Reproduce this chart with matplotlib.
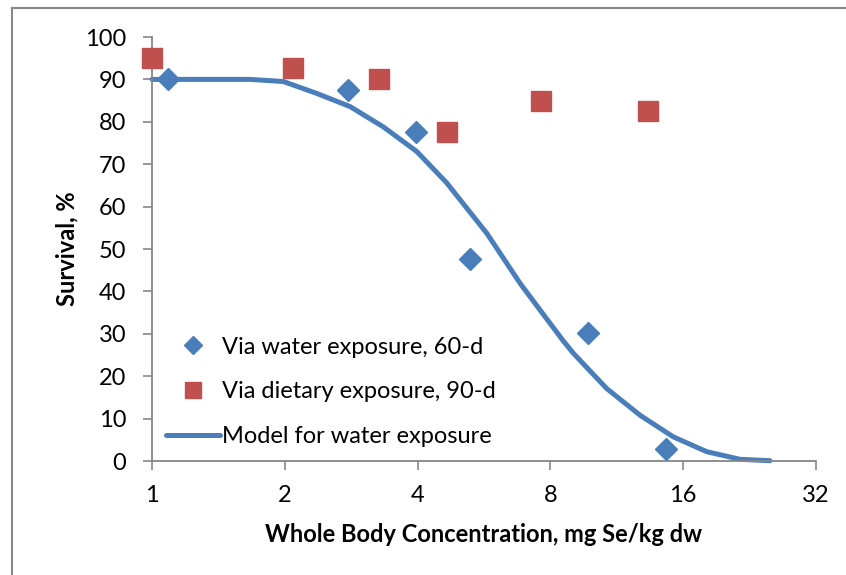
import matplotlib
matplotlib.use("Agg")
import matplotlib.pyplot as plt
from matplotlib.lines import Line2D
from matplotlib.ticker import FixedLocator, FixedFormatter, NullLocator

plt.rcParams['font.family'] = ['Lato', 'DejaVu Sans']

# Data
water_x = [1.087, 2.78, 3.97, 5.26, 9.73, 14.6]
water_y = [90.1, 87.5, 77.6, 47.6, 30.2, 2.8]

diet_x = [1.0, 2.09, 3.27, 4.66, 7.62, 13.3]
diet_y = [95.0, 92.7, 90.1, 77.6, 84.9, 82.5]

model_x = [1.0, 1.3, 1.5, 1.668, 1.985, 2.362, 2.811, 3.345, 3.982, 4.656,
           5.74, 6.83, 7.58, 8.56, 9.02, 10.73, 12.77, 15.19, 18.09,
           21.52, 25.17]
model_y = [90.0, 90.0, 90.0, 90.0, 89.5, 86.7, 83.6, 78.8, 73.0, 65.6,
           53.7, 41.9, 35.6, 28.3, 25.4, 17.1, 10.8, 5.7, 2.2,
           0.4, 0.07]

xticks = [1, 2, 4, 8, 16, 32]
xticklabels = ['1', '2', '4', '8', '16', '32']
yticks = [0, 10, 20, 30, 40, 50, 60, 70, 80, 90, 100]

blue = '#4a7ebb'
red = '#c0504d'
gray = '#868686'

fig = plt.figure(figsize=(8.46, 5.75), dpi=100)
ax = fig.add_axes([152/846, 1 - 461/575, (816-152)/846, (461-37)/575])

ax.set_xscale('log', base=2)
ax.set_xlim(1, 32)
ax.set_ylim(0, 100)

ax.plot(water_x, water_y, linestyle='none', marker='D', markersize=11,
        color=blue, label='Via water exposure, 60-d', zorder=3, clip_on=False)
ax.plot(diet_x, diet_y, linestyle='none', marker='s', markersize=14,
        color=red, label='Via dietary exposure, 90-d', zorder=3, clip_on=False)
ax.plot(model_x, model_y, color=blue, linewidth=3.6, solid_capstyle='round',
        solid_joinstyle='round', label='Model for water exposure', zorder=2,
        clip_on=False)

ax.xaxis.set_major_locator(FixedLocator(xticks))
ax.xaxis.set_major_formatter(FixedFormatter(xticklabels))
ax.xaxis.set_minor_locator(NullLocator())
ax.set_yticks(yticks)

for s in ['top', 'right']:
    ax.spines[s].set_visible(False)
for s in ['left', 'bottom']:
    ax.spines[s].set_color(gray)
    ax.spines[s].set_linewidth(1.3)

ax.tick_params(axis='both', direction='out', length=6.5, width=1.2, color=gray,
               labelsize=17, labelcolor='black')
ax.tick_params(axis='x', pad=11)
ax.tick_params(axis='y', pad=12)

ax.set_xlabel('Whole Body Concentration, mg Se/kg dw', fontsize=17,
              fontweight='bold', labelpad=12)
ax.set_ylabel('Survival, %', fontsize=17, fontweight='bold', labelpad=5)

leg = ax.legend(loc='lower left', bbox_to_anchor=(0.0, 0.0), frameon=False,
                fontsize=17, handlelength=2.3, handletextpad=0.05,
                labelspacing=1.0, borderaxespad=0.2, markerscale=0.85)

# figure border (left and top)
fig.add_artist(Line2D([12/846, 12/846], [0, 1 - 8/575], transform=fig.transFigure,
                      color='#888888', linewidth=1.5))
fig.add_artist(Line2D([12/846, 1], [1 - 8/575, 1 - 8/575], transform=fig.transFigure,
                      color='#888888', linewidth=1.5))

fig.savefig('out.png', dpi=100)
